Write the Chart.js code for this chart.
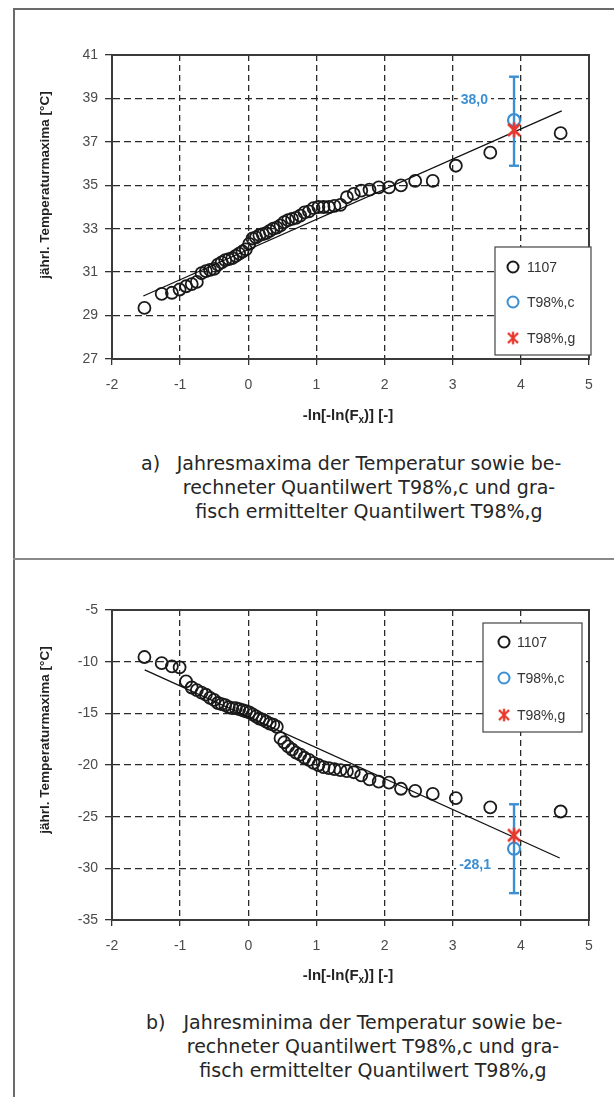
<!DOCTYPE html>
<html>
<head>
<meta charset="utf-8">
<script src="https://cdn.jsdelivr.net/npm/chart.js@4.4.0/dist/chart.umd.min.js"></script>
<style>
  html, body { margin: 0; padding: 0; background: #fff; }
  body { width: 614px; height: 1097px; position: relative; overflow: hidden; }
  .linie { position: absolute; background: #6a6a6a; }
  .diagramm { position: absolute; left: 0; }
  .text { position: absolute; font-family: 'DejaVu Sans', Verdana, sans-serif; font-size: 19px; line-height: 24px; color: #262626; }
</style>
</head>
<body>
<!-- Rahmen um beide Teilbilder -->
<div class="linie" style="left:13px; top:8px; width:1.5px; height:1089px;"></div>
<div class="linie" style="left:13px; top:8px; width:601px; height:1.5px;"></div>
<div class="linie" style="left:13px; top:558px; width:601px; height:1.5px; background:#8a8a8a;"></div>

<canvas id="diagrammMax" class="diagramm" width="614" height="440" style="top:0px;"></canvas>
<canvas id="diagrammMin" class="diagramm" width="614" height="440" style="top:560px;"></canvas>

<div class="text" style="left:141px; top:451px;">a)</div>
<div class="text" style="left:154px; top:451px; width:430px; text-align:center;">Jahresmaxima der Temperatur sowie be-<br>rechneter Quantilwert T98%,c und gra-<br>fisch ermittelter Quantilwert T98%,g</div>

<div class="text" style="left:146px; top:1010px;">b)</div>
<div class="text" style="left:158px; top:1010px; width:430px; text-align:center;">Jahresminima der Temperatur sowie be-<br>rechneter Quantilwert T98%,c und gra-<br>fisch ermittelter Quantilwert T98%,g</div>

<script>
// Werte (Gumbel-Papier, 55 Jahre)
const reduzierteVariable = [-1.524, -1.271, -1.121, -1.008, -0.913, -0.830, -0.755, -0.686, -0.622, -0.561,
  -0.502, -0.446, -0.391, -0.338, -0.286, -0.235, -0.184, -0.134, -0.085, -0.035,
  0.014, 0.063, 0.113, 0.163, 0.213, 0.263, 0.315, 0.367, 0.419, 0.473,
  0.528, 0.584, 0.642, 0.701, 0.762, 0.825, 0.890, 0.958, 1.029, 1.104,
  1.182, 1.264, 1.352, 1.447, 1.548, 1.658, 1.779, 1.914, 2.065, 2.241,
  2.449, 2.707, 3.046, 3.551, 4.584];

const jahresMaxima = [29.35, 30.0, 30.05, 30.2, 30.35, 30.45, 30.55, 30.95, 31.05, 31.1,
  31.15, 31.35, 31.45, 31.55, 31.6, 31.65, 31.75, 31.85, 31.95, 32.05,
  32.3, 32.55, 32.6, 32.7, 32.75, 32.8, 32.9, 33.0, 33.05, 33.15,
  33.3, 33.4, 33.45, 33.5, 33.6, 33.75, 33.8, 33.95, 34.0, 34.0,
  34.0, 34.05, 34.1, 34.45, 34.6, 34.75, 34.8, 34.9, 34.9, 35.0,
  35.2, 35.2, 35.9, 36.5, 37.4];

const jahresMinima = [-9.55, -10.15, -10.45, -10.55, -11.9, -12.5, -12.75, -13.0, -13.2, -13.5,
  -13.7, -14.0, -14.1, -14.2, -14.4, -14.5, -14.5, -14.6, -14.7, -14.8,
  -14.9, -15.1, -15.3, -15.5, -15.6, -15.8, -16.0, -16.1, -16.3, -17.4,
  -17.8, -18.2, -18.5, -18.8, -19.0, -19.3, -19.5, -19.8, -20.0, -20.2,
  -20.3, -20.4, -20.5, -20.6, -20.7, -21.0, -21.4, -21.6, -21.7, -22.3,
  -22.5, -22.8, -23.2, -24.1, -24.5];

// Ausgleichsgeraden (Anfang, Ende)
const geradeMaxX = [-1.54, 4.6];
const geradeMaxY = [29.9, 38.43];
const geradeMinX = [-1.52, 4.57];
const geradeMinY = [-10.8, -29.0];

// Quantile T98% (x = -ln(-ln(0.98)))
const quantilX = 3.9;
const maxQuantilC = 38.0;
const maxQuantilG = 37.55;
const maxBand = [35.9, 40.0];
const minQuantilC = -28.1;
const minQuantilG = -26.8;
const minBand = [-23.8, -32.4];
const maxBeschriftung = '38,0';
const minBeschriftung = '-28,1';

const legendenTexte = ['1107', 'T98%,c', 'T98%,g'];
const xAchse = [-2, 5];
const yAchseMax = [27, 41];
const yAchseMin = [-35, -5];

const blau = '#3b8fd2';
const rot = '#e8382c';
const schrift = "'Liberation Sans', Arial, sans-serif";

// Sternsymbol wie in Excel (X mit senkrechtem Strich)
function sternBild(farbe) {
  const c = document.createElement('canvas');
  c.width = 18; c.height = 18;
  const g = c.getContext('2d');
  g.strokeStyle = farbe;
  g.lineWidth = 2.6;
  g.beginPath();
  g.moveTo(3, 3); g.lineTo(15, 15);
  g.moveTo(15, 3); g.lineTo(3, 15);
  g.moveTo(9, 1.5); g.lineTo(9, 16.5);
  g.stroke();
  return c;
}
const stern = sternBild(rot);

// Rahmen, Achsentitel, Beschriftung und Legende
const beschriftungPlugin = {
  id: 'beschriftung',
  beforeDatasetsDraw(chart) {
    const a = chart.chartArea;
    const ctx = chart.ctx;
    ctx.save();
    ctx.strokeStyle = '#3a3a3a';
    ctx.lineWidth = 2;
    ctx.strokeRect(a.left, a.top, a.right - a.left, a.bottom - a.top);
    ctx.restore();
  },
  afterDatasetsDraw(chart, args, opts) {
    const ctx = chart.ctx;
    const xs = chart.scales.x, ys = chart.scales.y;
    ctx.save();

    // Wert des berechneten Quantils
    ctx.font = 'bold 14px ' + schrift;
    const px = xs.getPixelForValue(quantilX) + opts.wertDx;
    const py = ys.getPixelForValue(opts.wertY) + opts.wertDy;
    const w = ctx.measureText(opts.wert).width;
    ctx.fillStyle = '#fff';
    ctx.fillRect(px - w - 3, py - 8, w + 6, 16);
    ctx.fillStyle = blau;
    ctx.textAlign = 'right';
    ctx.textBaseline = 'middle';
    ctx.fillText(opts.wert, px, py);

    // Legende
    const L = opts.legende;
    ctx.fillStyle = '#fff';
    ctx.fillRect(L.x, L.y, L.w, L.h);
    ctx.strokeStyle = '#444';
    ctx.lineWidth = 1.2;
    ctx.strokeRect(L.x, L.y, L.w, L.h);
    ctx.font = '14px ' + schrift;
    ctx.textAlign = 'left';
    legendenTexte.forEach((t, i) => {
      const y = L.y + L.zeilen[i];
      if (i < 2) {
        ctx.beginPath();
        ctx.arc(L.mx, y, 5.5, 0, Math.PI * 2);
        ctx.strokeStyle = i === 0 ? '#1a1a1a' : blau;
        ctx.lineWidth = 2;
        ctx.stroke();
      } else {
        ctx.drawImage(stern, L.mx - 7.5, y - 7.5, 15, 15);
      }
      ctx.fillStyle = '#333';
      ctx.fillText(t, L.tx, y + 1);
    });

    // Achsentitel y
    ctx.font = 'bold 13.5px ' + schrift;
    ctx.fillStyle = '#222';
    ctx.translate(45, opts.yTitelMitte);
    ctx.rotate(-Math.PI / 2);
    ctx.textAlign = 'center';
    ctx.fillText('jährl. Temperaturmaxima [°C]', 0, 0);
    ctx.restore();

    // Achsentitel x mit tiefgestelltem x
    ctx.save();
    ctx.fillStyle = '#222';
    ctx.textBaseline = 'middle';
    const teil1 = '-ln[-ln(F', teil2 = 'x', teil3 = ')] [-]';
    ctx.font = 'bold 15px ' + schrift;
    const w1 = ctx.measureText(teil1).width, w3 = ctx.measureText(teil3).width;
    ctx.font = 'bold 10px ' + schrift;
    const w2 = ctx.measureText(teil2).width;
    const x0 = 348 - (w1 + w2 + w3) / 2;
    ctx.font = 'bold 15px ' + schrift;
    ctx.fillText(teil1, x0, opts.xTitelY);
    ctx.font = 'bold 10px ' + schrift;
    ctx.fillText(teil2, x0 + w1, opts.xTitelY + 4);
    ctx.font = 'bold 15px ' + schrift;
    ctx.fillText(teil3, x0 + w1 + w2, opts.xTitelY);
    ctx.restore();
  }
};

function baueDiagramm(id, werte, gx, gy, qc, qg, band, bereich, schritt, layout, plug) {
  return new Chart(document.getElementById(id), {
    type: 'scatter',
    data: {
      datasets: [
        { label: 'T98%,g', data: [{ x: quantilX, y: qg }], pointStyle: stern, pointRadius: 8, order: 0 },
        { label: 'T98%,c', data: [{ x: quantilX, y: qc }], pointStyle: 'circle', pointRadius: 6,
          borderColor: blau, borderWidth: 2.2, backgroundColor: 'rgba(0,0,0,0)', order: 1 },
        { label: 'Band', type: 'line', data: band.map(y => ({ x: quantilX, y })), borderColor: blau, borderWidth: 2.4,
          pointStyle: 'line', pointRadius: 5, pointBorderColor: blau, pointBorderWidth: 2.4, order: 2 },
        { label: 'Gerade', type: 'line', data: gx.map((x, i) => ({ x, y: gy[i] })), borderColor: '#111',
          borderWidth: 1.3, pointRadius: 0, order: 3 },
        { label: '1107', data: reduzierteVariable.map((x, i) => ({ x, y: werte[i] })), pointStyle: 'circle',
          pointRadius: 6, borderColor: '#1a1a1a', borderWidth: 1.8, backgroundColor: 'rgba(0,0,0,0)', order: 4 }
      ]
    },
    options: {
      responsive: false,
      animation: false,
      devicePixelRatio: 1,
      layout: { padding: { top: layout.top, right: 25, left: 0, bottom: 0 } },
      plugins: { legend: { display: false }, tooltip: { enabled: false }, beschriftung: plug },
      scales: {
        x: {
          type: 'linear', min: xAchse[0], max: xAchse[1],
          ticks: { stepSize: 1, color: '#4a4a4a', padding: 12, font: { family: schrift, size: 14 } },
          grid: { color: '#2a2a2a', lineWidth: 1.3, tickLength: 6, tickColor: '#333', tickBorderDash: [] },
          border: { color: '#3a3a3a', width: 2, dash: [6, 4] },
          afterFit: s => { s.height = layout.xHoehe; }
        },
        y: {
          type: 'linear', min: bereich[0], max: bereich[1],
          ticks: { stepSize: schritt, color: '#4a4a4a', padding: 7, font: { family: schrift, size: 14 } },
          grid: { color: '#2a2a2a', lineWidth: 1.3, tickLength: 7, tickColor: '#333', tickBorderDash: [] },
          border: { color: '#3a3a3a', width: 2, dash: [7, 4] },
          afterFit: s => { s.width = 112; }
        }
      }
    },
    plugins: [beschriftungPlugin]
  });
}

baueDiagramm('diagrammMax', jahresMaxima, geradeMaxX, geradeMaxY, maxQuantilC, maxQuantilG, maxBand,
  yAchseMax, 2, { top: 55, xHoehe: 81 },
  { wert: maxBeschriftung, wertY: maxQuantilC, wertDx: -26, wertDy: -20, yTitelMitte: 185, xTitelY: 416,
    legende: { x: 495, y: 247, w: 96, h: 108, zeilen: [20, 55, 91], mx: 513, tx: 527 } });

baueDiagramm('diagrammMin', jahresMinima, geradeMinX, geradeMinY, minQuantilC, minQuantilG, minBand,
  yAchseMin, 5, { top: 50, xHoehe: 80 },
  { wert: minBeschriftung, wertY: minQuantilC, wertDx: -23, wertDy: 16, yTitelMitte: 180, xTitelY: 416,
    legende: { x: 483, y: 63, w: 99, h: 109, zeilen: [19, 55, 92], mx: 504, tx: 517 } });
</script>
</body>
</html>
